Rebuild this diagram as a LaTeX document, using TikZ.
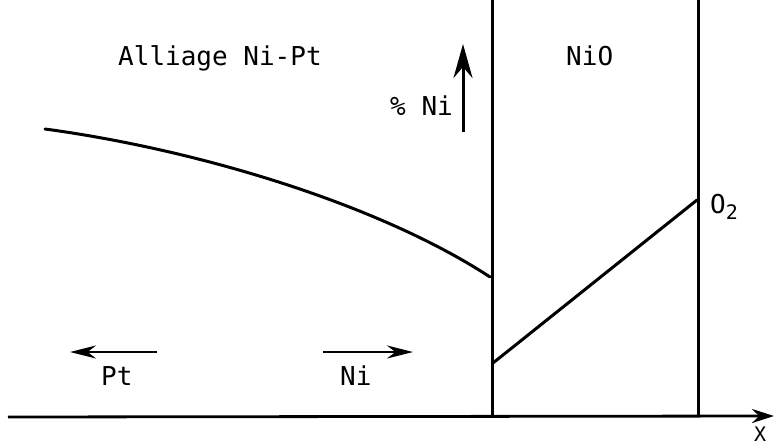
\documentclass[tikz,border=0pt]{standalone}
\usepackage{fontspec}
\setmonofont{DejaVu Sans Mono}
\usetikzlibrary{arrows.meta}

\tikzset{
  lbl/.style={font=\ttfamily\fontsize{26}{30}\selectfont,inner sep=0pt,anchor=base west},
  wall/.style={line width=3pt},
  trace/.style={line width=3pt,line cap=round},
  flux/.style={line width=2.4pt,-{Stealth[length=26pt,width=13pt]}}
}

\begin{document}
\begin{tikzpicture}[x=1pt,y=-1pt,>=Stealth]
  \useasboundingbox (0,0) rectangle (774,447);
  % axis and interfaces
  \coordinate (o) at (8,417);
  \coordinate (xend) at (774,416);
  \draw[line width=2.8pt,-{Stealth[length=22pt,width=14pt]}] (o) -- (xend);
  \node[lbl,text depth=0pt,font=\ttfamily\fontsize{20}{22}\selectfont] (xlab) at (754,441) {X};
  \draw[wall] (492,0) coordinate (w1top) -- (492,417) coordinate (w1bot);
  \draw[wall] (698,0) coordinate (w2top) -- (698,416) coordinate (w2bot);
  % labels
  \node[lbl] (alloy) at (118,65) {Alliage Ni-Pt};
  \node[lbl] (oxide) at (566,65) {NiO};
  \node[lbl] (pct) at (390,115) {\% Ni};
  \node[lbl] (ox) at (710,213) {O\raisebox{-6pt}{\fontsize{20}{20}\selectfont 2}};
  \node[lbl] (pt) at (101,385) {Pt};
  \node[lbl] (ni) at (340,385) {Ni};
  % concentration profiles
  \draw[trace] (45,129) .. controls (200,150) and (380,205) .. (490,277);
  \draw[trace] (493,363) coordinate (s1) -- (697,200) coordinate (s2);
  % arrows
  \coordinate (pctbot) at (463,132);
  \coordinate (pcttop) at (463,44);
  \draw[line width=3pt,-{Stealth[length=34pt,width=19pt]}] (pctbot) -- (pcttop);
  \coordinate (ptA) at (157,352);
  \coordinate (ptB) at (70,352);
  \draw[flux] (ptA) -- (ptB);
  \coordinate (niA) at (323,352);
  \coordinate (niB) at (413,352);
  \draw[flux] (niA) -- (niB);
\end{tikzpicture}
\end{document}
